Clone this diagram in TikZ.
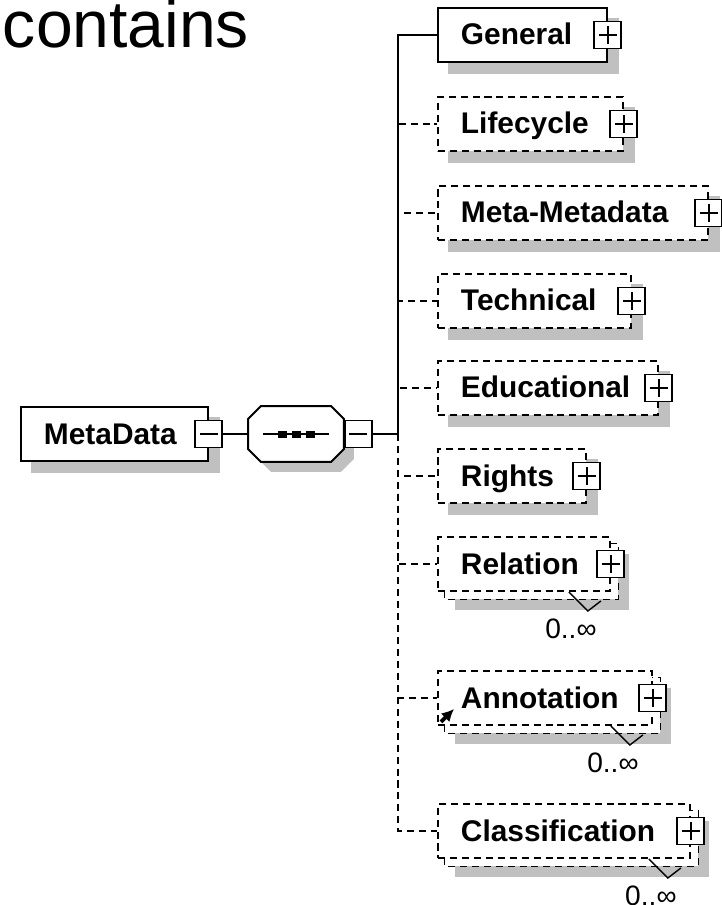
\documentclass[tikz,border=0pt]{standalone}
\usepackage{fontspec}
\setmainfont{Liberation Sans}
\usetikzlibrary{backgrounds,arrows.meta}
\definecolor{shadowgray}{RGB}{192,192,192}

\begin{document}
\begin{tikzpicture}[x=0.02cm,y=-0.02cm,line width=1.1pt,
    elem/.style={draw,fill=white,anchor=west,align=left,text width=#1,
      minimum height=1.08cm,inner xsep=0.46cm,inner ysep=0pt,
      text height=0.4cm,text depth=0pt,font=\fontsize{17}{19}\selectfont\bfseries},
    optelem/.style={elem=#1,dash pattern=on 4pt off 2.8pt},
    pbox/.style={draw,solid,fill=white,minimum size=0.54cm,inner sep=0pt,
      path picture={
        \draw ([shift={(-9,0)}]path picture bounding box.center) -- ([shift={(9,0)}]path picture bounding box.center);
        \draw ([shift={(0,-9)}]path picture bounding box.center) -- ([shift={(0,9)}]path picture bounding box.center);}},
    mbox/.style={draw,solid,fill=white,minimum size=0.54cm,inner sep=0pt,
      path picture={
        \draw ([shift={(-9,0)}]path picture bounding box.center) -- ([shift={(9,0)}]path picture bounding box.center);}},
    seqbox/.style={minimum width=1.88cm,minimum height=1.08cm,inner sep=0pt},
    octagon/.style={insert path={([shift={(13+#1,#1)}]seq.north west) -- ([shift={(-13+#1,#1)}]seq.north east)
      -- ([shift={(#1,13+#1)}]seq.north east) -- ([shift={(#1,-13+#1)}]seq.south east)
      -- ([shift={(-13+#1,#1)}]seq.south east) -- ([shift={(13+#1,#1)}]seq.south west)
      -- ([shift={(#1,-13+#1)}]seq.south west) -- ([shift={(#1,13+#1)}]seq.north west) -- cycle}},
    optlink/.style={dash pattern=on 4pt off 2.8pt},
    mult/.style={font=\fontsize{16}{18}\selectfont}]
  \useasboundingbox (0,0) rectangle (721,905);
  \node[anchor=base east,inner sep=0pt,text height=0.7em,font=\fontsize{37.6}{40}\selectfont] (title) at (250,48) {contains};

  \node[elem=2.82cm] (metadata) at (20,434) {MetaData};
  \node[mbox] (metadata-x) at (metadata.east) {};
  \node[seqbox] (seq) at (296,434) {};
  \draw[fill=white,octagon=0];
  \draw ([shift={(-33,0)}]seq.center) -- ([shift={(33,0)}]seq.center);
  \foreach \d in {-14,0,14}
    \fill ([shift={(\d-4.5,-3.5)}]seq.center) rectangle ([shift={(\d+4.5,3.5)}]seq.center);
  \node[mbox,anchor=west] (seq-x) at (seq.east) {};
  \coordinate (trunk) at (398,434);

  \node[elem=2.46cm] (general) at (437,35) {General};
  \node[optelem=2.78cm] (lifecycle) at (437,124) {Lifecycle};
  \node[optelem=4.48cm] (metameta) at (437,213) {Meta-Metadata};
  \node[optelem=2.94cm] (technical) at (437,301) {Technical};
  \node[optelem=3.48cm] (educational) at (437,388) {Educational};
  \node[optelem=2.04cm] (rights) at (437,476) {Rights};
  \node[optelem=2.52cm] (relation) at (437,564) {Relation};
  \node[optelem=3.36cm] (annotation) at (437,698) {Annotation};
  \node[optelem=4.12cm] (classification) at (437,831) {Classification};
  \foreach \n in {general,lifecycle,metameta,technical,educational,rights,relation,annotation,classification}
    \node[pbox] (\n-x) at (\n.east) {};

  \draw (metadata-x) -- (seq);
  \draw (seq-x) -- (trunk);
  \draw (trunk) |- (general);
  \foreach \n in {lifecycle,metameta,technical,educational,rights,relation,annotation,classification}
    \draw[optlink] (trunk) |- (\n);

  \foreach \n in {relation,annotation,classification}{
    \draw[line width=0.8pt] ([shift={(-42,0)}]\n.south east) -- ([shift={(-23,19)}]\n.south east) -- ([shift={(-10,9)}]\n.south east);
    \node[mult] (\n-m) at ([shift={(-40,37)}]\n.south east) {0..∞};
  }
  \draw[-{Latex[length=7pt,width=7pt]},line width=2.2pt] ([shift={(4,-4)}]annotation.south west) -- ([shift={(17,-17)}]annotation.south west);

  \begin{scope}[on background layer]
    \foreach \n in {metadata,general,lifecycle,metameta,technical,educational,rights}
      \fill[shadowgray] ([shift={(11,11)}]\n.north west) rectangle ([shift={(11,11)}]\n.south east);
    \fill[shadowgray,octagon=10];
    \foreach \n in {relation,annotation,classification}{
      \fill[shadowgray] ([shift={(18,18)}]\n.north west) rectangle ([shift={(18,18)}]\n.south east);
      \draw[optlink,fill=white] ([shift={(7,7)}]\n.north west) rectangle ([shift={(7,7)}]\n.south east);
    }
  \end{scope}
\end{tikzpicture}
\end{document}
